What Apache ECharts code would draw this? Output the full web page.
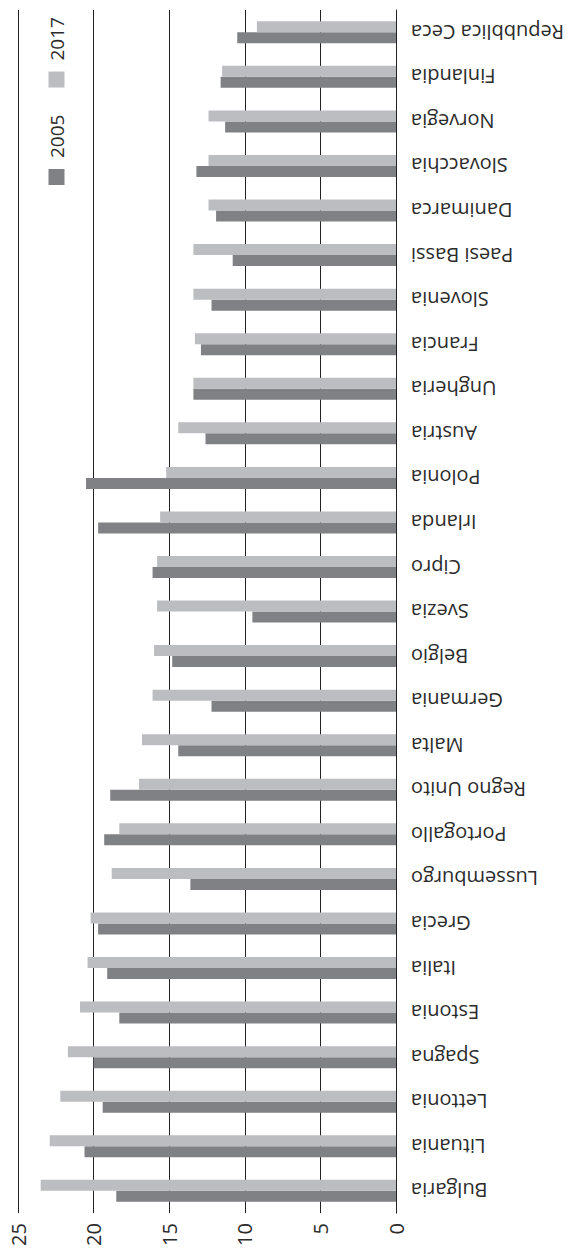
<!DOCTYPE html>
<html>
<head>
<meta charset="utf-8">
<script src="https://cdn.jsdelivr.net/npm/echarts@6/dist/echarts.min.js"></script>
<style>
    html, body { margin: 0; padding: 0; background: #fff; overflow: hidden; }
    #chart {
        position: absolute;
        left: 0;
        top: 0;
        width: 1249px;
        height: 573px;
        transform-origin: 0 0;
        transform: translate(0, 1249px) rotate(-90deg);
    }
</style>
</head>
<body>
<div id="chart"></div>
<script>
var countries = ['Bulgaria', 'Lituania', 'Lettonia', 'Spagna', 'Estonia', 'Italia', 'Grecia',
    'Lussemburgo', 'Portogallo', 'Regno Unito', 'Malta', 'Germania', 'Belgio', 'Svezia',
    'Cipro', 'Irlanda', 'Polonia', 'Austria', 'Ungheria', 'Francia', 'Slovenia',
    'Paesi Bassi', 'Danimarca', 'Slovacchia', 'Norvegia', 'Finlandia', 'Repubblica Ceca'];
var values2005 = [18.5, 20.6, 19.4, 20.0, 18.3, 19.1, 19.7, 13.6, 19.3, 18.9, 14.4, 12.2, 14.8, 9.5,
    16.1, 19.7, 20.5, 12.6, 13.4, 12.9, 12.2, 10.8, 11.9, 13.2, 11.3, 11.6, 10.5];
var values2017 = [23.5, 22.9, 22.2, 21.7, 20.9, 20.4, 20.2, 18.8, 18.3, 17.0, 16.8, 16.1, 16.0, 15.8,
    15.8, 15.6, 15.2, 14.4, 13.4, 13.3, 13.4, 13.4, 12.4, 12.4, 12.4, 11.5, 9.2];
var seriesNames = ['2005', '2017'];

var fontName = '"Open Sans", sans-serif';
var textColor = '#2b2b2b';

function initChart() {
    var chart = echarts.init(document.getElementById('chart'), null, { renderer: 'svg' });
    var option = {
        animation: false,
        backgroundColor: '#fff',
        textStyle: { fontFamily: fontName },
        legend: {
            data: seriesNames,
            left: 1064,
            top: 47,
            padding: 0,
            itemWidth: 16,
            itemHeight: 16,
            itemGap: 27,
            icon: 'rect',
            textStyle: {
                fontFamily: fontName,
                fontSize: 19,
                color: textColor,
                padding: [0, 0, 0, 6]
            }
        },
        grid: {
            left: 32,
            right: 10,
            top: 18,
            bottom: 177
        },
        xAxis: {
            type: 'category',
            data: countries,
            axisTick: { show: false },
            axisLine: { lineStyle: { color: '#222', width: 1 } },
            axisLabel: {
                rotate: 90,
                margin: 15,
                interval: 0,
                fontFamily: fontName,
                fontSize: 20,
                color: textColor
            }
        },
        yAxis: {
            type: 'value',
            min: 0,
            max: 25,
            interval: 5,
            axisLine: { show: false },
            axisTick: { show: false },
            splitLine: { lineStyle: { color: '#222', width: 1 } },
            axisLabel: {
                margin: 10,
                fontFamily: fontName,
                fontSize: 20,
                color: textColor
            }
        },
        series: [
            {
                name: seriesNames[0],
                type: 'bar',
                data: values2005,
                barWidth: 11,
                barGap: '0%',
                itemStyle: { color: '#808185' }
            },
            {
                name: seriesNames[1],
                type: 'bar',
                data: values2017,
                barWidth: 11,
                barGap: '0%',
                itemStyle: { color: '#bcbdc1' }
            }
        ]
    };
    chart.setOption(option);
    return chart;
}

initChart();
</script>
</body>
</html>
